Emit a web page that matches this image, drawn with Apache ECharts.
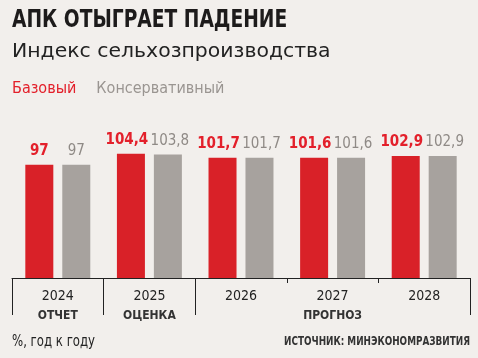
<!DOCTYPE html>
<html><head><meta charset="utf-8">
<script src="https://cdn.jsdelivr.net/npm/echarts@6/dist/echarts.min.js"></script>
<style>html,body{margin:0;padding:0;background:#f2efec;}#c{width:478px;height:358px;}</style>
</head><body><div id="c"></div>
<script>
const categories = ['2024','2025','2026','2027','2028'];
const baseValues = [97, 104.4, 101.7, 101.6, 102.9];
const consValues = [97, 103.8, 101.7, 101.6, 102.9];
const baseLabels = ['97','104,4','101,7','101,6','102,9'];
const consLabels = ['97','103,8','101,7','101,6','102,9'];
const groupNames = ['ОТЧЕТ','ОЦЕНКА','ПРОГНОЗ'];
const groupCenters = [0.5, 1.5, 3.5];
const groupBounds = [0, 1, 2, 5];

const NARROW = '"DejaVu Sans Condensed",sans-serif';
const RED = '#d92128', GREY = '#a7a29e';

function items(values, labels, shift) {
  return values.map((v, i) => ({value: v, label: {offset: labels[i].length > 2 ? [shift, 0] : [0, 0]}}));
}

const chart = echarts.init(document.getElementById('c'));
chart.setOption({
  backgroundColor: '#f2efec',
  animation: false,
  graphic: [
    {type: 'text', x: 12, y: 20, scaleX: 0.83,
     style: {text: 'АПК ОТЫГРАЕТ ПАДЕНИЕ', font: 'bold 25px "DejaVu Sans Condensed"', fill: '#1d1b1b', textVerticalAlign: 'middle'}},
    {type: 'text', x: 12, y: 52, scaleX: 1.02,
     style: {text: 'Индекс сельхозпроизводства', font: '20px "DejaVu Sans"', fill: '#222', textVerticalAlign: 'middle'}},
    {type: 'text', x: 12, y: 342, scaleX: 0.87,
     style: {text: '%, год к году', font: '15px "DejaVu Sans Condensed"', fill: '#222', textVerticalAlign: 'middle'}},
    {type: 'text', x: 470, y: 342, scaleX: 0.82,
     style: {text: 'ИСТОЧНИК: МИНЭКОНОМРАЗВИТИЯ', font: 'bold 12px "DejaVu Sans Condensed"', fill: '#333', textAlign: 'right', textVerticalAlign: 'middle'}}
  ],
  legend: {
    left: 6, top: 76, itemWidth: 0, itemHeight: 0, itemGap: 19, icon: 'rect',
    selectedMode: false,
    textStyle: {fontFamily: NARROW, fontSize: 16, padding: [0,0,0,-4]},
    data: [
      {name: 'Базовый', textStyle: {color: '#e3202b'}},
      {name: 'Консервативный', textStyle: {color: '#9a9591'}}
    ]
  },
  grid: {left: 12, right: 8, top: 120, bottom: 80},
  xAxis: [
    {type: 'category', data: categories, position: 'bottom',
     axisLine: {lineStyle: {color: '#222', width: 1}},
     axisTick: {show: true, length: 5, lineStyle: {color: '#222'}},
     axisLabel: {margin: 11, fontFamily: NARROW, fontSize: 14, color: '#222'}},
    {type: 'value', min: 0, max: 5, position: 'bottom',
     splitLine: {show: false},
     axisLine: {show: false},
     axisTick: {show: true, length: 37, customValues: groupBounds, lineStyle: {color: '#222'}},
     axisLabel: {customValues: groupCenters, margin: 32, fontFamily: NARROW, fontWeight: 'bold', fontSize: 12, color: '#333',
       formatter: function(v){ const i = groupCenters.indexOf(v); return i >= 0 ? groupNames[i] : ''; }}}
  ],
  yAxis: {type: 'value', min: 21, max: 127, show: false, splitLine: {show: false}},
  series: [
    {name: 'Базовый', type: 'bar', xAxisIndex: 0, data: items(baseValues, baseLabels, -4), barWidth: 28, barGap: '32%',
     itemStyle: {color: RED},
     label: {show: true, position: 'top', distance: 6, fontFamily: NARROW, fontWeight: 'bold', fontSize: 15, color: '#e3202b',
       formatter: p => baseLabels[p.dataIndex]}},
    {name: 'Консервативный', type: 'bar', xAxisIndex: 0, data: items(consValues, consLabels, 2), barWidth: 28,
     itemStyle: {color: GREY},
     label: {show: true, position: 'top', distance: 6, fontFamily: NARROW, fontWeight: 'normal', fontSize: 15, color: '#8f8a86',
       formatter: p => consLabels[p.dataIndex]}}
  ]
});
</script></body></html>
